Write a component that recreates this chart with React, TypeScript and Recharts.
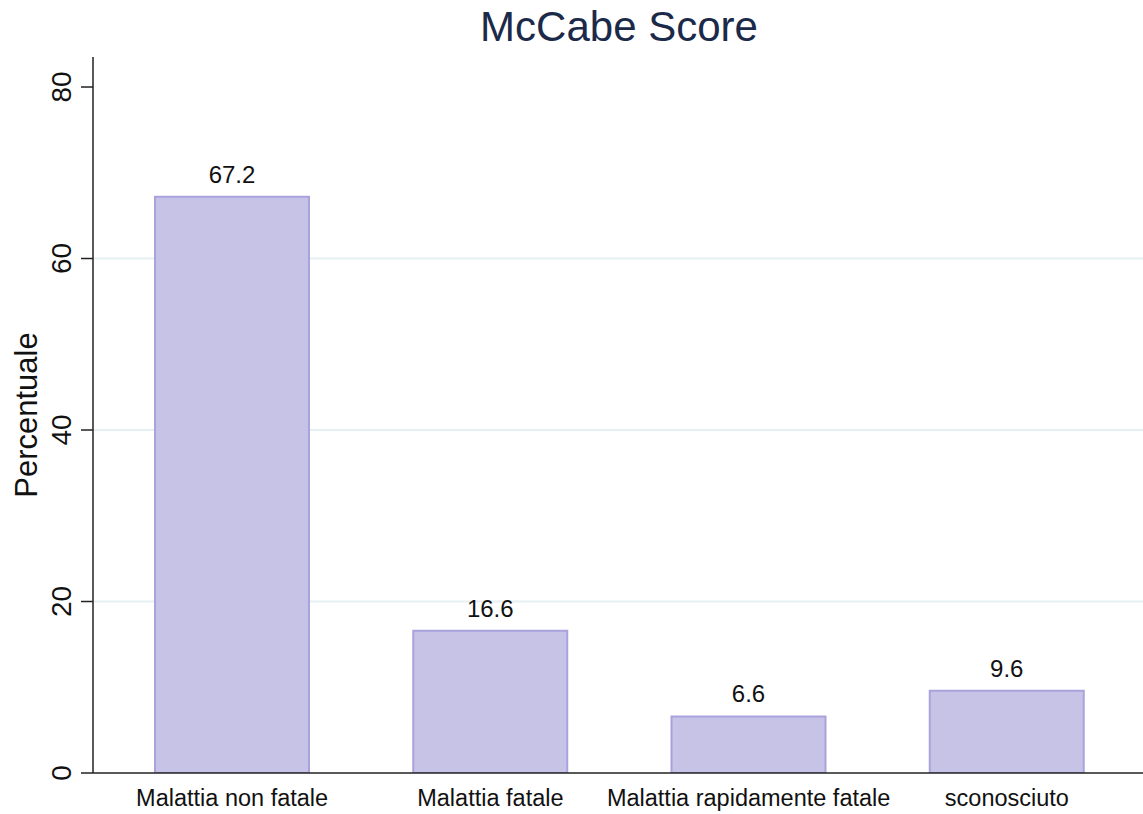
import React from "react";
import { BarChart, Bar, XAxis, YAxis, CartesianGrid, LabelList, Label } from "recharts";

const categories = ["Malattia non fatale", "Malattia fatale", "Malattia rapidamente fatale", "sconosciuto"];
const percent = [67.2, 16.6, 6.6, 9.6];
const yTicks = [0, 20, 40, 60, 80];
const gridValues = [20, 40, 60];

const data = categories.map((c, i) => ({ name: c, value: percent[i] }));

const FONT = "'Liberation Sans', Arial, sans-serif";

const YTick = (props: any) => {
  const { x, y, payload } = props;
  return (
    <text
      x={x - 8}
      y={y}
      transform={`rotate(-90, ${x - 8}, ${y})`}
      textAnchor="middle"
      fontSize={28}
      fontFamily={FONT}
      fill="#111"
    >
      {payload.value}
    </text>
  );
};

const YLabel = (props: any) => {
  const vb = props.viewBox || {};
  const x = 37;
  const y = (vb.y ?? 57) + (vb.height ?? 716) / 2;
  return (
    <text
      x={x}
      y={y}
      transform={`rotate(-90, ${x}, ${y})`}
      textAnchor="middle"
      fontSize={31}
      fontFamily={FONT}
      fill="#111"
    >
      Percentuale
    </text>
  );
};

export default function App() {
  return (
    <div style={{ position: "absolute", left: 0, top: 0, width: 1143, height: 814, background: "#fff" }}>
      <svg width={1143} height={60} style={{ position: "absolute", left: 0, top: 0 }}>
        <text x={619} y={41} textAnchor="middle" fontSize={42} fontFamily={FONT} fill="#1c2a4a">
          McCabe Score
        </text>
      </svg>
      <div style={{ position: "absolute", left: 0, top: 0 }}>
        <BarChart
          width={1143}
          height={814}
          data={data}
          margin={{ top: 57, right: 0, bottom: 0, left: 0 }}
        >
          <CartesianGrid
            vertical={false}
            horizontalValues={gridValues}
            stroke="#e6eff1"
            strokeWidth={2}
          />
          <XAxis
            dataKey="name"
            height={41}
            padding={{ left: 10, right: 7 }}
            tickLine={false}
            axisLine={{ stroke: "#222", strokeWidth: 1.5 }}
            tick={{ fontSize: 23.5, fontFamily: FONT, fill: "#111" }}
            tickMargin={10}
            interval={0}
          />
          <YAxis
            width={93}
            domain={[0, 83.5]}
            ticks={yTicks}
            allowDataOverflow
            tickSize={12}
            tickLine={{ stroke: "#222", strokeWidth: 1.5 }}
            axisLine={{ stroke: "#222", strokeWidth: 1.5 }}
            tick={<YTick />}
          >
            <Label content={<YLabel />} />
          </YAxis>
          <Bar
            dataKey="value"
            fill="#c6c3e6"
            stroke="#a9a2dd"
            strokeWidth={2}
            barSize={154}
            isAnimationActive={false}
          >
            <LabelList
              dataKey="value"
              position="top"
              offset={14}
              fontSize={24}
              fontFamily={FONT}
              fill="#111"
              formatter={(v: any) => Number(v).toFixed(1)}
            />
          </Bar>
        </BarChart>
      </div>
    </div>
  );
}
